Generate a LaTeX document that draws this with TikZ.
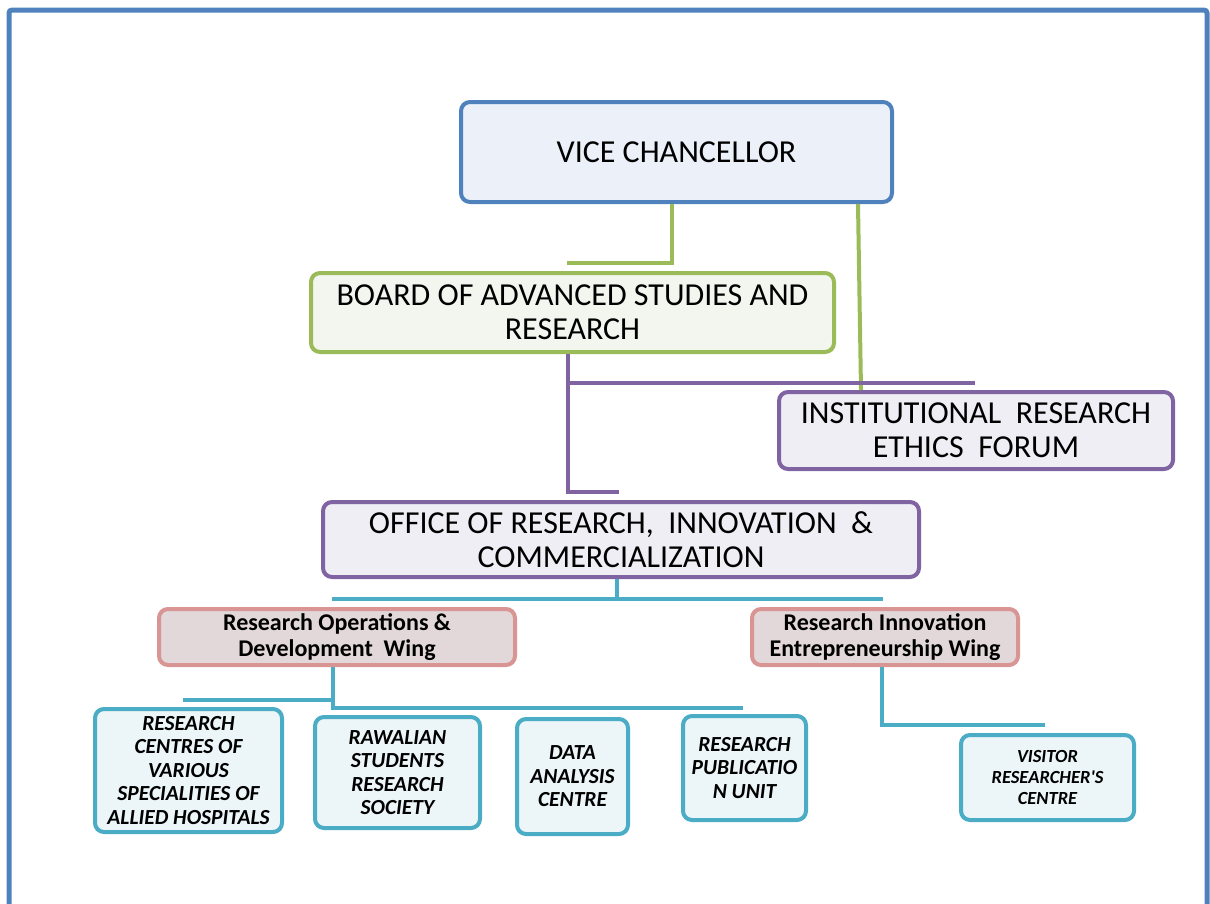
\documentclass[tikz,border=0pt]{standalone}
\usepackage{fontspec}
\setmainfont{Carlito}
\definecolor{frameblue}{HTML}{4F81BD}
\definecolor{vcfill}{HTML}{EBF0F9}
\definecolor{grn}{HTML}{9BBB59}
\definecolor{grnfill}{HTML}{F3F6EE}
\definecolor{purp}{HTML}{8064A2}
\definecolor{purpfill}{HTML}{F0EEF5}
\definecolor{rose}{HTML}{D99594}
\definecolor{rosefill}{HTML}{E2D8D9}
\definecolor{teal}{HTML}{4BACC6}
\definecolor{tealfill}{HTML}{ECF5F8}
\tikzset{
  box/.style={draw, line width=4pt, rounded corners=9pt, inner sep=0pt, align=center, text=black},
  topbox/.style={box, font=\fontsize{32}{34}\selectfont},
  wingbox/.style={box, draw=rose, fill=rosefill, font=\bfseries\fontsize{24}{26}\selectfont},
  leafbox/.style={box, draw=teal, fill=tealfill, font=\bfseries\itshape\fontsize{21.5}{23.5}\selectfont},
  gline/.style={draw=grn, line width=4pt},
  pline/.style={draw=purp, line width=4pt},
  tline/.style={draw=teal, line width=4pt},
}
\begin{document}
\begin{tikzpicture}[x=1pt, y=-1pt]
\useasboundingbox (0,0) rectangle (1210,903);
% frame
\draw[frameblue, line width=5pt, rounded corners=3pt] (9,915) -- (9,10) -- (1207,10) -- (1207,915);

% nodes
\node[topbox, draw=frameblue, fill=vcfill, minimum width=431pt, minimum height=100pt] (vc) at (676.5,152) {VICE CHANCELLOR};
\node[topbox, draw=grn, fill=grnfill, minimum width=523pt, minimum height=79pt] (board) at (572.5,312.5) {BOARD OF ADVANCED STUDIES AND\\RESEARCH};
\node[topbox, draw=purp, fill=purpfill, minimum width=394pt, minimum height=77pt] (iref) at (976,430.5) {INSTITUTIONAL\ \ RESEARCH\\ETHICS\ \ FORUM};
\node[topbox, draw=purp, fill=purpfill, minimum width=596pt, minimum height=75pt] (oric) at (621,539.5) {OFFICE OF RESEARCH,\ \ INNOVATION\ \ \&\\COMMERCIALIZATION};
\node[wingbox, minimum width=356pt, minimum height=56pt] (rod) at (337,637) {Research Operations \&\\Development\ \ Wing};
\node[wingbox, minimum width=266pt, minimum height=56pt] (rie) at (885,637) {Research Innovation\\Entrepreneurship Wing};
\node[leafbox, minimum width=187pt, minimum height=123pt] (rc) at (188.5,770.5) {RESEARCH\\CENTRES OF\\VARIOUS\\SPECIALITIES OF\\ALLIED HOSPITALS};
\node[leafbox, minimum width=165pt, minimum height=111pt] (raw) at (397.5,772.5) {RAWALIAN\\STUDENTS\\RESEARCH\\SOCIETY};
\node[leafbox, minimum width=111pt, minimum height=115pt] (data) at (572.5,776.5) {DATA\\ANALYSIS\\CENTRE};
\node[leafbox, minimum width=123pt, minimum height=104pt] (rpu) at (744.5,768) {RESEARCH\\PUBLICATIO\\N UNIT};
\node[leafbox, font=\bfseries\itshape\fontsize{18.5}{21}\selectfont, minimum width=173pt, minimum height=85pt] (vrc) at (1047.5,777.5) {VISITOR\\RESEARCHER\textquotesingle S\\CENTRE};

% green connectors
\coordinate (g1) at (672,263);
\coordinate (g1e) at (567,263);
\coordinate (g2a) at (858,0);
\coordinate (g2b) at (861,0);
\draw[gline] (g1 |- vc.south) -- (g1) -- (g1e);
\draw[gline] (g2a |- vc.south) -- (g2b |- iref.north);

% purple connectors
\coordinate (p1) at (568,492);
\coordinate (p1e) at (619,492);
\coordinate (p2) at (568,383);
\coordinate (p2e) at (975,383);
\draw[pline] (p1 |- board.south) -- (p1) -- (p1e);
\draw[pline] (p2) -- (p2e);

% teal connectors
\coordinate (t0) at (617,599);
\coordinate (tl) at (332,599);
\coordinate (tr) at (883,599);
\draw[tline] (t0 |- oric.south) -- (t0);
\draw[tline] (tl) -- (tr);
\coordinate (t1) at (333,708);
\coordinate (t1r) at (743,708);
\coordinate (t2) at (333,700);
\coordinate (t2l) at (183,700);
\draw[tline] (t1 |- rod.south) -- (t1) -- (t1r);
\draw[tline] (t2) -- (t2l);
\coordinate (t3) at (882,725);
\coordinate (t3r) at (1045,725);
\draw[tline] (t3 |- rie.south) -- (t3) -- (t3r);
\end{tikzpicture}
\end{document}
